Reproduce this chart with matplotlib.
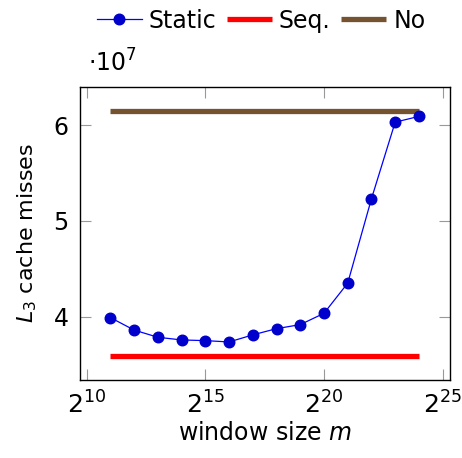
import numpy as np
import matplotlib
matplotlib.use("Agg")
import matplotlib.pyplot as plt

# window size exponents (log2 m)
exps = [11, 12, 13, 14, 15, 16, 17, 18, 19, 20, 21, 22, 23, 24]
# L3 cache misses, in units of 1e7
static = [3.99, 3.86, 3.785, 3.757, 3.75, 3.736, 3.81, 3.875, 3.917, 4.035, 4.35, 5.23, 6.03, 6.09]
seq = [3.59, 3.59]
no = [6.15, 6.15]
line_span = [11, 24]
xtick_exps = [10, 15, 20, 25]
ytick_vals = [4, 5, 6]

plt.rcParams['font.family'] = ['DejaVu Sans']
plt.rcParams['mathtext.fontset'] = 'dejavusans'

fig = plt.figure(figsize=(4.62, 4.58), dpi=100)
ax = fig.add_axes([0.1725, 0.1703, 0.8015, 0.6404])

ax.plot(exps, static, color='#0000ff', lw=0.9, marker='o', ms=7.6,
        mfc='#0000cc', mec='#0000cc', label='Static', zorder=3)
ax.plot(line_span, seq, color='#ff0000', lw=3.8, label='Seq.', solid_capstyle='butt')
ax.plot(line_span, no, color='#765330', lw=3.8, label='No', solid_capstyle='butt')

ax.set_xlim(9.705, 25.31)
ax.set_ylim(3.339, 6.40)
ax.set_xticks(xtick_exps)
ax.set_xticklabels([r'$2^{%d}$' % e for e in xtick_exps])
ax.set_yticks(ytick_vals)
ax.tick_params(axis='x', labelsize=18, pad=8)
ax.tick_params(axis='y', labelsize=17, pad=8)
ax.tick_params(direction='in', length=8, width=0.8, color='#999999',
               top=True, right=True)
for s in ax.spines.values():
    s.set_linewidth(1.0)

ax.set_xlabel(r'window size $m$', fontsize=17, labelpad=2)
ax.set_ylabel(r'$L_3$ cache misses', fontsize=16, labelpad=10)
fig.text(0.19, 0.833, r'$\cdot 10^7$', fontsize=17, ha='left', va='bottom')

fig.legend(loc='center', bbox_to_anchor=(0.565, 0.955), ncol=3, frameon=False,
           fontsize=17, handlelength=1.9, handletextpad=0.3, columnspacing=0.45,
           borderaxespad=0)

fig.savefig('out.png', dpi=100)
